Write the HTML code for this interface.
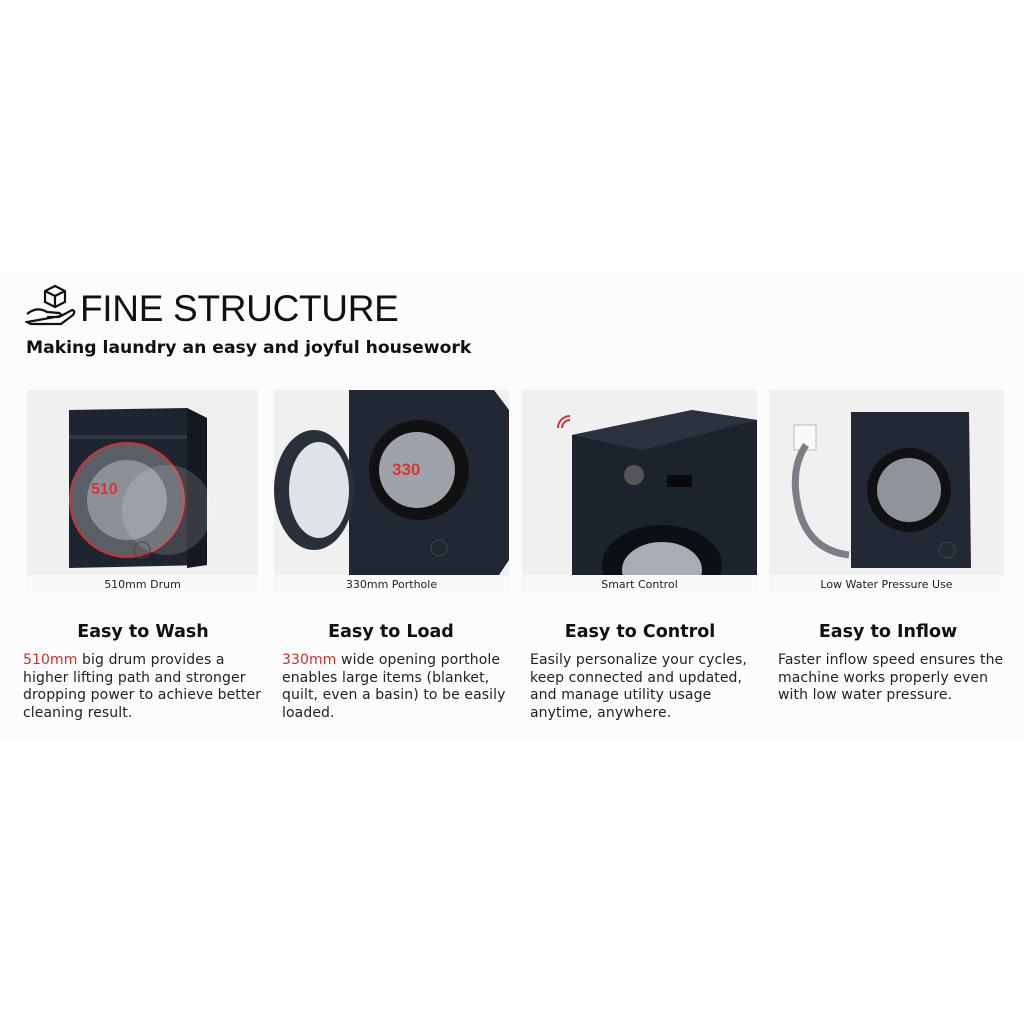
<!DOCTYPE html>
<html><head><meta charset="utf-8"><style>
body{margin:0;width:1024px;height:1024px;background:#fff;position:relative;font-family:"DejaVu Sans","Liberation Sans",sans-serif;overflow:hidden}
.band{position:absolute;left:0;top:270px;width:1024px;height:470px;background:#fcfcfc}
.t{position:absolute;white-space:nowrap;color:#111}
.p{position:absolute;top:390px;height:205px;background:#f0f0f0}
.cap{position:absolute;left:0;right:0;bottom:0;height:20px;background:#fafafa;text-align:center;font-size:11px;line-height:20px;color:#222}
.h{position:absolute;top:622px;font-size:17.5px;font-weight:bold;text-align:center;width:240px;color:#111}
.d{position:absolute;top:652px;font-size:14px;line-height:17.7px;color:#222;white-space:nowrap;letter-spacing:0.1px}
.r{color:#d52b2b}
</style></head><body>
<div class="band"></div>
<svg style="position:absolute;left:25px;top:284px" width="52" height="46" viewBox="0 0 52 46" fill="none" stroke="#111" stroke-width="2.2">
<path d="M30 2 L40 7 L40 18 L30 23 L20 18 L20 7 Z M20 7 L30 12 L40 7 M30 12 L30 23"/>
<path d="M2 30 Q12 22 22 28 L34 29 Q38 31 34 33 L22 33 M36 32 L47 26 Q51 27 48 31 L36 40 L6 40 L2 38 Z"/>
</svg>
<div class="t" style="left:80px;top:288px;font-size:37px;font-family:'Liberation Sans',sans-serif;letter-spacing:-0.3px">FINE STRUCTURE</div>
<div class="t" style="left:26px;top:338px;font-size:17.2px;font-weight:bold">Making laundry an easy and joyful housework</div>

<div class="p" style="left:27px;width:231px">
<svg width="231" height="185" viewBox="0 0 231 185">
<path d="M42 20 L160 18 L180 28 L180 175 L42 178 Z" fill="#1f2530"/>
<path d="M160 18 L180 28 L180 175 L160 178Z" fill="#141820"/>
<rect x="42" y="45" width="118" height="4" fill="#333a45"/>
<circle cx="100" cy="110" r="57" fill="#5a5e66" stroke="#c33" stroke-width="2"/>
<circle cx="100" cy="110" r="40" fill="#8c9098"/>
<circle cx="140" cy="120" r="45" fill="#ffffff" opacity=".15"/>
<text x="64" y="104" fill="#e03030" font-size="16" font-weight="bold" font-family="Liberation Sans">510</text>
<circle cx="115" cy="160" r="8" fill="none" stroke="#444"/>
</svg>
<div class="cap">510mm Drum</div></div>

<div class="p" style="left:274px;width:235px">
<svg width="235" height="185" viewBox="0 0 235 185">
<path d="M75 0 L220 0 L235 20 L235 170 L225 185 L75 185 Z" fill="#222833"/>
<circle cx="145" cy="80" r="50" fill="#111"/>
<circle cx="143" cy="80" r="38" fill="#9ea3aa"/>
<ellipse cx="40" cy="100" rx="40" ry="60" fill="#2a303a"/>
<ellipse cx="45" cy="100" rx="30" ry="48" fill="#dfe2e6"/>
<text x="118" y="85" fill="#e03030" font-size="17" font-weight="bold" font-family="Liberation Sans">330</text>
<circle cx="165" cy="158" r="8" fill="none" stroke="#444"/>
</svg>
<div class="cap">330mm Porthole</div></div>

<div class="p" style="left:522px;width:235px">
<svg width="235" height="185" viewBox="0 0 235 185">
<path d="M50 45 L170 20 L235 30 L235 185 L50 185 Z" fill="#1d232d"/>
<path d="M50 45 L170 20 L235 30 L120 60Z" fill="#2c333e"/>
<circle cx="112" cy="85" r="10" fill="#555"/>
<rect x="145" y="85" width="25" height="12" fill="#0a0a0a"/>
<ellipse cx="140" cy="175" rx="60" ry="40" fill="#0c0f14"/>
<ellipse cx="140" cy="180" rx="40" ry="28" fill="#a8adb3"/>
<path d="M40 38 a8 8 0 0 1 8 -8 M36 38 a12 12 0 0 1 12 -12" stroke="#d33" stroke-width="2" fill="none"/>
</svg>
<div class="cap">Smart Control</div></div>

<div class="p" style="left:769px;width:235px">
<svg width="235" height="185" viewBox="0 0 235 185">
<rect x="25" y="35" width="22" height="25" fill="#fafafa" stroke="#bbb"/>
<path d="M37 55 Q20 80 30 120 Q40 160 80 165" stroke="#7a7f86" stroke-width="7" fill="none"/>
<path d="M82 22 L200 22 L202 178 L82 178 Z" fill="#222834"/>
<circle cx="140" cy="100" r="42" fill="#111"/>
<circle cx="140" cy="100" r="32" fill="#8f949b"/>
<circle cx="178" cy="160" r="8" fill="none" stroke="#444"/>
</svg>
<div class="cap">Low Water Pressure Use</div></div>

<div class="h" style="left:23px">Easy to Wash</div>
<div class="h" style="left:271px">Easy to Load</div>
<div class="h" style="left:520px">Easy to Control</div>
<div class="h" style="left:768px">Easy to Inflow</div>

<div class="d" style="left:23px"><span class="r">510mm</span> big drum provides a<br>higher lifting path and stronger<br>dropping power to achieve better<br>cleaning result.</div>
<div class="d" style="left:282px"><span class="r">330mm</span> wide opening porthole<br>enables large items (blanket,<br>quilt, even a basin) to be easily<br>loaded.</div>
<div class="d" style="left:530px">Easily personalize your cycles,<br>keep connected and updated,<br>and manage utility usage<br>anytime, anywhere.</div>
<div class="d" style="left:778px">Faster inflow speed ensures the<br>machine works properly even<br>with low water pressure.</div>
</body></html>
